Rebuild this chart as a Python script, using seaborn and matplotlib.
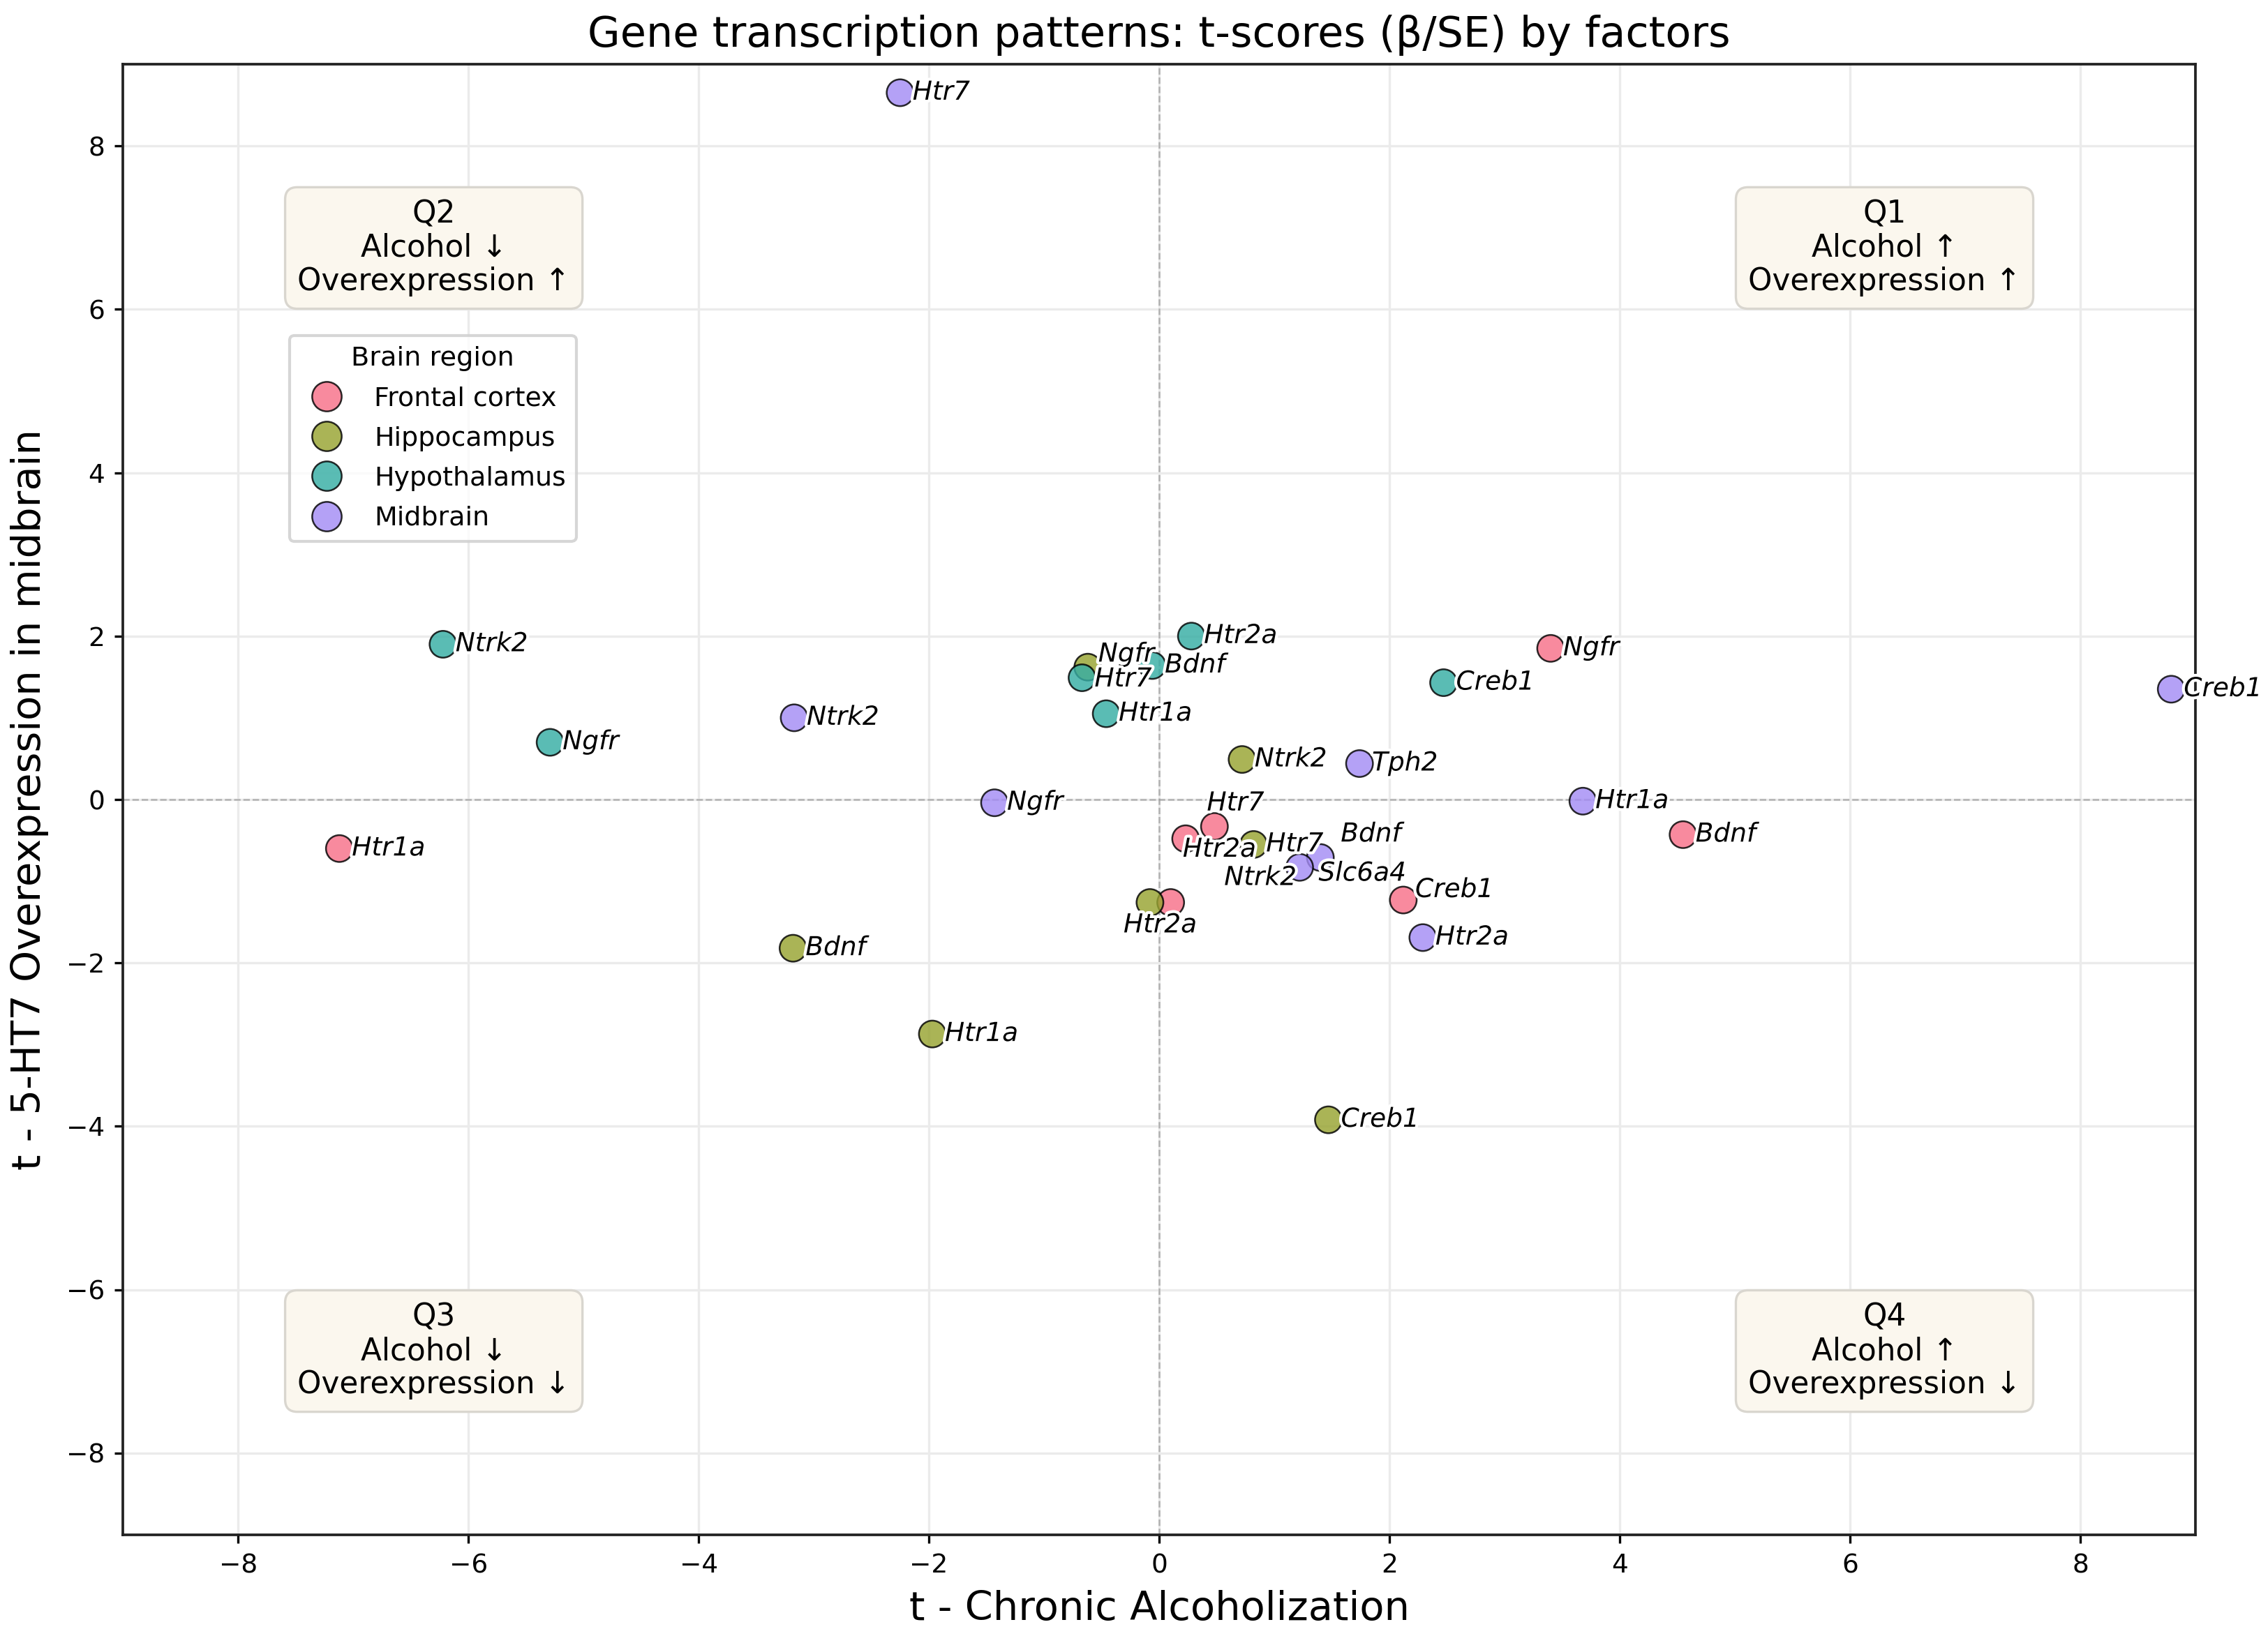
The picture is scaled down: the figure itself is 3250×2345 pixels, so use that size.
import numpy as np
import pandas as pd
import matplotlib
matplotlib.use("Agg")
import matplotlib.pyplot as plt
import matplotlib.patheffects as pe
import seaborn as sns

# ---------------- data ----------------
regions = ["Frontal cortex", "Hippocampus", "Hypothalamus", "Midbrain"]

fc_genes = ["Htr1a", "Htr2a", "Htr7", "Bdnf", "Ngfr", "Ntrk2", "Creb1"]
fc_x = [-7.12, 0.23, 0.48, 4.55, 3.40, 0.10, 2.12]
fc_y = [-0.60, -0.48, -0.33, -0.43, 1.85, -1.26, -1.23]

hc_genes = ["Htr1a", "Htr2a", "Htr7", "Bdnf", "Ngfr", "Ntrk2", "Creb1"]
hc_x = [-1.97, -0.08, 0.82, -3.18, -0.62, 0.72, 1.47]
hc_y = [-2.87, -1.26, -0.55, -1.82, 1.62, 0.49, -3.92]

hy_genes = ["Htr1a", "Htr2a", "Htr7", "Bdnf", "Ngfr", "Ntrk2", "Creb1"]
hy_x = [-0.46, 0.28, -0.67, -0.06, -5.29, -6.22, 2.47]
hy_y = [1.05, 2.00, 1.49, 1.64, 0.70, 1.90, 1.43]

mb_genes = ["Htr1a", "Htr2a", "Htr7", "Bdnf", "Ngfr", "Ntrk2", "Creb1", "Tph2", "Slc6a4"]
mb_x = [3.68, 2.29, -2.25, 1.40, -1.43, -3.17, 8.79, 1.74, 1.22]
mb_y = [-0.02, -1.69, 8.65, -0.71, -0.04, 1.00, 1.35, 0.44, -0.83]

quadrant_labels = [
    "Q1\nAlcohol \u2191\nOverexpression \u2191",
    "Q2\nAlcohol \u2193\nOverexpression \u2191",
    "Q3\nAlcohol \u2193\nOverexpression \u2193",
    "Q4\nAlcohol \u2191\nOverexpression \u2193",
]

title = "Gene transcription patterns: t-scores (\u03b2/SE) by factors"
xlabel = "t - Chronic Alcoholization"
ylabel = "t - 5-HT7 Overexpression in midbrain"
ticks = [-8, -6, -4, -2, 0, 2, 4, 6, 8]

# ---------------- table ----------------
frames = []
for reg, g, xs, ys in [
    (regions[0], fc_genes, fc_x, fc_y),
    (regions[1], hc_genes, hc_x, hc_y),
    (regions[2], hy_genes, hy_x, hy_y),
    (regions[3], mb_genes, mb_x, mb_y),
]:
    frames.append(pd.DataFrame({"region": reg, "gene": g, "tx": xs, "ty": ys}))
df = pd.concat(frames, ignore_index=True)

# label offsets (points) for crowded labels
default_off = (4.3, 0.0)
label_off = {
    ("Hippocampus", "Ngfr"): (3.6, 4.3),
    ("Hypothalamus", "Htr7"): (4.3, -0.6),
    ("Frontal cortex", "Htr7"): (-2.6, 7.9),
    ("Frontal cortex", "Htr2a"): (-1.0, -3.8),
    ("Midbrain", "Bdnf"): (7.0, 7.9),
    ("Midbrain", "Slc6a4"): (6.5, -2.2),
    ("Frontal cortex", "Ntrk2"): (18.4, 8.4),
    ("Hippocampus", "Htr2a"): (-9.1, -7.9),
    ("Frontal cortex", "Creb1"): (4.1, 3.4),
}

# ---------------- figure ----------------
W, H, DPI = 3250, 2345, 300
fig, ax = plt.subplots(figsize=(W / DPI, H / DPI), dpi=DPI)
fig.subplots_adjust(left=0.0542, right=0.968, bottom=0.0618, top=0.9608)

ax.grid(True, color="#ebebeb", linewidth=0.8, zorder=0)
ax.set_axisbelow(True)
ax.axhline(0, color="#999999", linestyle="--", linewidth=0.6, alpha=0.7, zorder=1)
ax.axvline(0, color="#999999", linestyle="--", linewidth=0.6, alpha=0.7, zorder=1)

palette = sns.color_palette("husl", 4)
sns.scatterplot(
    data=df, x="tx", y="ty", hue="region", hue_order=regions,
    palette=palette, s=85, alpha=0.82, edgecolor="black", linewidth=0.6,
    ax=ax, zorder=3,
)

for _, r in df.iterrows():
    dx, dy = label_off.get((r["region"], r["gene"]), default_off)
    ax.annotate(
        r["gene"], (r["tx"], r["ty"]), xytext=(dx, dy), textcoords="offset points",
        ha="left", va="center", fontsize=9, style="italic", color="black",
        zorder=4, annotation_clip=False,
        path_effects=[pe.withStroke(linewidth=2, foreground="white")],
    )

ax.set_xlim(-9, 9)
ax.set_ylim(-9, 9)
ax.set_xticks(ticks)
ax.set_yticks(ticks)
ax.tick_params(labelsize=9, length=2.8, width=0.8)
for sp in ax.spines.values():
    sp.set_color("#222222")
    sp.set_linewidth(0.9)

ax.set_title(title, fontsize=14.5, pad=6)
ax.set_xlabel(xlabel, fontsize=13.8, labelpad=4)
ax.set_ylabel(ylabel, fontsize=13.8, labelpad=6)

box = dict(boxstyle="round,pad=0.4", facecolor="#fbf7ee", edgecolor="#d9d6cf", linewidth=0.8)
qpos = [(0.85, 0.875), (0.15, 0.875), (0.15, 0.125), (0.85, 0.125)]
for (qx, qy), txt in zip(qpos, quadrant_labels):
    ax.text(qx, qy, txt, transform=ax.transAxes, ha="center", va="center",
            fontsize=10.5, bbox=box, zorder=5, linespacing=1.15)

leg = ax.legend(title="Brain region", loc="upper left", bbox_to_anchor=(0.0803, 0.8155),
                borderaxespad=0.0, fontsize=9.1, title_fontsize=9.2, markerscale=1.1,
                labelspacing=0.56, frameon=True)
leg.get_frame().set_edgecolor("#cccccc")

fig.savefig("out.png", dpi=DPI)
